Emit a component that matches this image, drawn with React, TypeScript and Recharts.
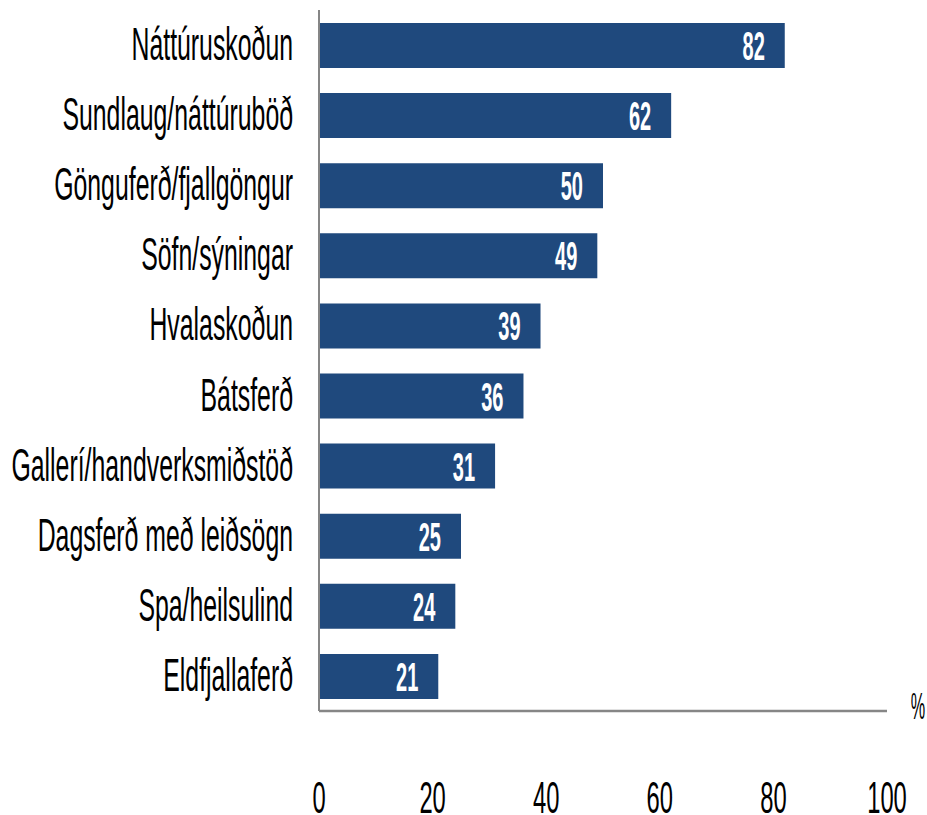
import { BarChart, Bar, XAxis, YAxis, LabelList } from "recharts";

const CATEGORIES = [
  "Náttúruskoðun",
  "Sundlaug/náttúruböð",
  "Gönguferð/fjallgöngur",
  "Söfn/sýningar",
  "Hvalaskoðun",
  "Bátsferð",
  "Gallerí/handverksmiðstöð",
  "Dagsferð með leiðsögn",
  "Spa/heilsulind",
  "Eldfjallaferð",
];
const VALUES = [82, 62, 50, 49, 39, 36, 31, 25, 24, 21];
const X_TICKS = [0, 20, 40, 60, 80, 100];

const BAR_COLOR = "#1F497D";
const AXIS_COLOR = "#868686";
const FONT = "'Liberation Sans', Arial, sans-serif";
const SQUEEZE = 0.54;

const data = CATEGORIES.map((name, i) => ({ name, value: VALUES[i] }));

function CategoryTick({ x, y, payload }: any) {
  return (
    <text
      transform={`translate(${x - 26},${y + 15}) scale(${SQUEEZE},1)`}
      textAnchor="end"
      fontSize={46}
      fontFamily={FONT}
      fill="#000"
    >
      {payload.value}
    </text>
  );
}

function ValueTick({ x, y, payload }: any) {
  return (
    <text
      transform={`translate(${x},${y + 102}) scale(${SQUEEZE},1)`}
      textAnchor="middle"
      fontSize={44}
      fontFamily={FONT}
      fill="#000"
    >
      {payload.value}
    </text>
  );
}

function BarValue({ x, y, width, height, value }: any) {
  return (
    <text
      transform={`translate(${x + width - 20},${y + height / 2 + 14.5}) scale(0.5,1)`}
      textAnchor="end"
      fontSize={40}
      fontWeight="bold"
      fontFamily={FONT}
      fill="#fff"
    >
      {value}
    </text>
  );
}

function PercentLabel({ viewBox }: any) {
  const { x, y, width } = viewBox;
  return (
    <text
      transform={`translate(${x + width + 31},${y + 8}) scale(0.45,1)`}
      textAnchor="middle"
      fontSize={36}
      fontFamily={FONT}
      fill="#000"
    >
      %
    </text>
  );
}

export default function App() {
  return (
    <div style={{ position: "absolute", left: 0, top: 0, background: "#fff" }}>
      <BarChart
        width={927}
        height={815}
        layout="vertical"
        data={data}
        barCategoryGap={25}
        margin={{ top: 10, right: 40, bottom: 0, left: 0 }}
      >
        <XAxis
          type="number"
          domain={[0, 100]}
          ticks={X_TICKS}
          height={104}
          tickLine={false}
          tickSize={0}
          tickMargin={0}
          axisLine={{ stroke: AXIS_COLOR, strokeWidth: 2.5 }}
          tick={<ValueTick />}
          label={{ content: <PercentLabel /> }}
        />
        <YAxis
          type="category"
          dataKey="name"
          width={319}
          tickLine={false}
          tickSize={0}
          tickMargin={0}
          axisLine={{ stroke: AXIS_COLOR, strokeWidth: 2 }}
          tick={<CategoryTick />}
          interval={0}
        />
        <Bar dataKey="value" fill={BAR_COLOR} barSize={45} isAnimationActive={false}>
          <LabelList dataKey="value" content={<BarValue />} />
        </Bar>
      </BarChart>
    </div>
  );
}
